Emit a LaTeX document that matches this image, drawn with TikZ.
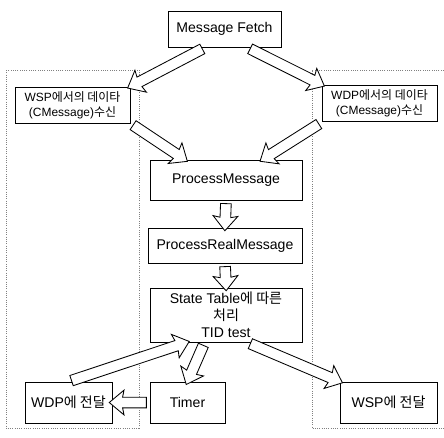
\documentclass[tikz,border=0pt]{standalone}
\usepackage{fontspec}
\setmainfont{Liberation Sans}
\newfontfamily\kr{Noto Sans CJK KR}
\usetikzlibrary{calc,positioning,shapes.arrows}
\tikzset{%
  box/.style={draw,line width=0.6pt,align=center,inner sep=1pt,fill=white},
  blockarrow/.style={single arrow,draw,fill=white,line width=0.6pt,inner xsep=0pt,inner ysep=3.5pt,
    single arrow head extend=5pt,single arrow tip angle=80,single arrow head indent=1pt},
  panel/.style={gray,densely dotted,line width=0.6pt},
  small/.style={font=\fontsize{8.5}{10.5}\selectfont},
  normal/.style={font=\fontsize{10}{12}\selectfont},
}
% hollow arrow from one point to another
\newcommand{\hollowarrow}[2]{%
  \path let \p1=(#1), \p2=(#2), \n1={atan2(\y2-\y1,\x2-\x1)}, \n2={veclen(\x2-\x1,\y2-\y1)} in
    node[blockarrow,minimum height=\n2,rotate=\n1] at ($(\p1)!0.5!(\p2)$) {};}

\begin{document}
\begin{tikzpicture}[x=0.025cm,y=-0.025cm]
  \useasboundingbox (0,0) rectangle (444,437);

  % dotted panels
  \draw[panel] (6,70) rectangle (139,428);
  \draw[panel] (446,70) -- (312,70) -- (312,428) -- (446,428);

  \node[box,normal,minimum width=2.825cm,minimum height=0.9cm] (fetch) at (224.5,29) {Message Fetch};
  \node[box,small,minimum width=2.875cm,minimum height=0.9cm] (wspRecv) at (72.5,105)
    {WSP{\kr 에서의 데이타}\\(CMessage){\kr 수신}};
  \node[box,small,minimum width=2.875cm,minimum height=0.92cm] (wdpRecv) at (379.5,103.5)
    {WDP{\kr 에서의 데이타}\\(CMessage){\kr 수신}};
  \node[box,normal,minimum width=3.8cm,minimum height=1cm] (procMsg) at (226,180) {ProcessMessage};
  \node[box,normal,minimum width=3.85cm,minimum height=0.875cm] (procReal) at (225,245.5) {ProcessRealMessage};
  \node[box,normal,minimum width=3.8cm,minimum height=1.35cm] (stateTable) at (226,315)
    {State Table{\kr 에 따른}\\{\kr 처리}\\TID test};
  \node[box,normal,minimum width=2.175cm,minimum height=1.025cm] (wdpSend) at (68.5,402.5) {WDP{\kr 에 전달}};
  \node[box,normal,minimum width=1.875cm,minimum height=1.025cm] (timer) at (187.5,402.5) {Timer};
  \node[box,normal,minimum width=2.425cm,minimum height=1.025cm] (wspSend) at (388.5,402.5) {WSP{\kr 에 전달}};

  \hollowarrow{$(fetch.south west)!0.33!(fetch.south east)$}{wspRecv.north east}
  \hollowarrow{$(fetch.south west)!0.7!(fetch.south east)$}{wdpRecv.north west}
  \hollowarrow{wspRecv.south east}{$(procMsg.north west)!0.23!(procMsg.north east)$}
  \hollowarrow{wdpRecv.south west}{$(procMsg.north west)!0.74!(procMsg.north east)$}
  \hollowarrow{procMsg.south}{procReal.north}
  \hollowarrow{procReal.south}{stateTable.north}
  \hollowarrow{wdpSend.north}{$(stateTable.south west)!0.24!(stateTable.south east)$}
  \hollowarrow{$(stateTable.south west)!0.36!(stateTable.south east)$}{timer.north}
  \hollowarrow{$(stateTable.south west)!0.64!(stateTable.south east)$}{wspSend.north west}
  \hollowarrow{timer.west}{wdpSend.east}
\end{tikzpicture}
\end{document}
